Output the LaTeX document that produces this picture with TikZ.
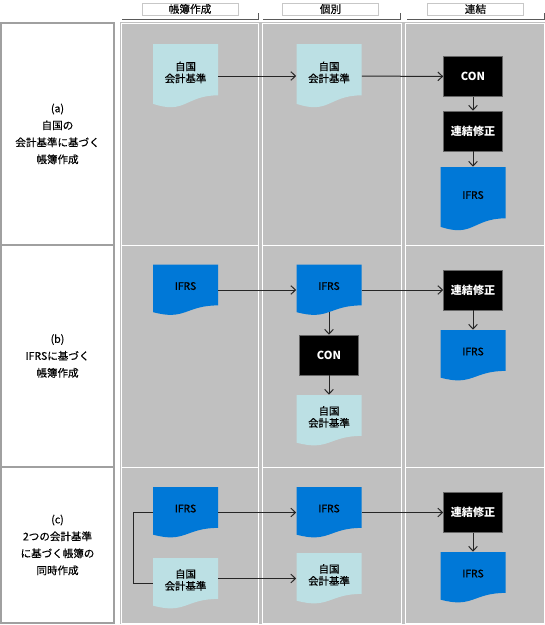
\documentclass[tikz,border=0pt]{standalone}
\usepackage{fontspec}
\newfontfamily\jp{Noto Sans CJK JP}
\newfontfamily\jplbl{Noto Sans CJK JP}[FakeBold=0.3]
\newfontfamily\jpdoc{Noto Sans CJK JP}[FakeBold=0.6]
\usetikzlibrary{arrows.meta}
\usetikzlibrary{calc}

\definecolor{panelgray}{RGB}{192,192,192}
\definecolor{docblue}{RGB}{0,120,215}
\definecolor{doclight}{RGB}{188,224,228}
\definecolor{rulegray}{RGB}{160,160,160}

\begin{document}
\begin{tikzpicture}[x=0.75pt, y=-0.75pt,
    every node/.style={inner sep=0pt},
    docu/.style={minimum width=48.75pt, minimum height=38.25pt, align=center,
        text depth=6pt, font=\jpdoc\fontsize{7.8pt}{9pt}\selectfont,
        path picture={
            \fill[#1] (path picture bounding box.north west)
                -- (path picture bounding box.north east)
                -- ($(path picture bounding box.north east)!0.802!(path picture bounding box.south east)$)
                .. controls ($(path picture bounding box.north)!0.802!(path picture bounding box.south)$)
                and ($(path picture bounding box.north)!1.1075!(path picture bounding box.south)$)
                .. ($(path picture bounding box.north west)!0.934!(path picture bounding box.south west)$)
                -- cycle;
        }},
    blk/.style={fill=black, draw=black!60, minimum width=44.25pt, minimum height=30pt,
        text=white, font=\jp\bfseries\fontsize{8.3pt}{10pt}\selectfont},
    lbl/.style={draw=rulegray, line width=1.1pt, fill=white, align=center,
        minimum width=84.75pt, font=\jplbl\fontsize{7.9pt}{12.75pt}\selectfont},
    hdr/.style={draw=black!22, fill=white, minimum width=72pt, minimum height=9pt,
        font=\jplbl\fontsize{8pt}{9pt}\selectfont},
    arr/.style={-{Straight Barb[length=3.5pt,width=6.5pt]}, line width=0.75pt, draw=black!85}]

    \useasboundingbox (0,0) rectangle (545,625);

    \fill[panelgray] (120,22) rectangle (545,624);
    \foreach \xa/\xb in {121/258, 262/401, 405/544} {
        \foreach \ya/\yb in {23/245, 245/467, 467/623}
            \draw[white, line width=0.75pt] (\xa,\ya) rectangle (\xb,\yb);
    }

    \foreach \xa/\xb in {122/258, 263/400, 407/544}
        \draw[black!65, line width=0.75pt] (\xa,19) -- (\xb,19) -- (\xb,13);

    \node[hdr] (hbook) at (190,9) {帳簿作成};
    \node[hdr] (hind) at (330.5,9) {個別};
    \node[hdr] (hcons) at (475.5,9) {連結};

    \node[lbl, minimum height=166.5pt] (la) at (57.5,134) {(a)\\自国の\\会計基準に基づく\\帳簿作成};
    \node[lbl, minimum height=166.5pt] (lb) at (57.5,356) {(b)\\IFRSに基づく\\帳簿作成};
    \node[lbl, minimum height=117pt] (lc) at (57.5,545) {(c)\\2つの会計基準\\に基づく帳簿の\\同時作成};

    \node[docu=doclight, minimum height=48pt] (a1) at (185.5,76) {自国\\会計基準};
    \node[docu=doclight, minimum height=48pt] (a2) at (329,76) {自国\\会計基準};
    \node[blk] (a3con) at (473,76.5) {CON};
    \node[blk] (a3adj) at (473,131) {連結修正};
    \node[docu=docblue, minimum height=48pt] (a3ifrs) at (473,199) {IFRS};

    \node[docu=docblue] (b1) at (185.5,290) {IFRS};
    \node[docu=docblue] (b2) at (329,290) {IFRS};
    \node[blk] (b2con) at (329,355) {CON};
    \node[docu=doclight] (b2jp) at (329,420.5) {自国\\会計基準};
    \node[blk] (b3adj) at (473,290) {連結修正};
    \node[docu=docblue] (b3ifrs) at (473,355.5) {IFRS};

    \node[docu=docblue] (c1) at (185.5,512.5) {IFRS};
    \node[docu=doclight] (c1jp) at (185.5,583.5) {自国\\会計基準};
    \node[docu=docblue] (c2) at (329,512.5) {IFRS};
    \node[docu=doclight] (c2jp) at (329,578.5) {自国\\会計基準};
    \node[blk] (c3adj) at (473,512.5) {連結修正};
    \node[docu=docblue] (c3ifrs) at (473,577.5) {IFRS};
    \coordinate (cfork) at (133,512.5);

    \draw[arr] (a1) -- (a2);
    \draw[arr] (a2) -- (a3con);
    \draw[arr] (a3con) -- (a3adj);
    \draw[arr] (a3adj) -- (a3ifrs);

    \draw[arr] (b1) -- (b2);
    \draw[arr] (b2) -- (b3adj);
    \draw[arr, shorten <=-3pt] (b2) -- (b2con);
    \draw[arr] (b2con) -- (b2jp);
    \draw[arr] (b3adj) -- (b3ifrs);

    \draw[arr] (c1) -- (c2);
    \draw[arr] (c2) -- (c3adj);
    \draw[arr] (c1jp.east |- c2jp.west) -- (c2jp.west);
    \draw[line width=0.75pt, draw=black!85] (c1.west) -- (cfork) |- (c1jp.west);
    \draw[arr] (c3adj) -- (c3ifrs);

\end{tikzpicture}
\end{document}
